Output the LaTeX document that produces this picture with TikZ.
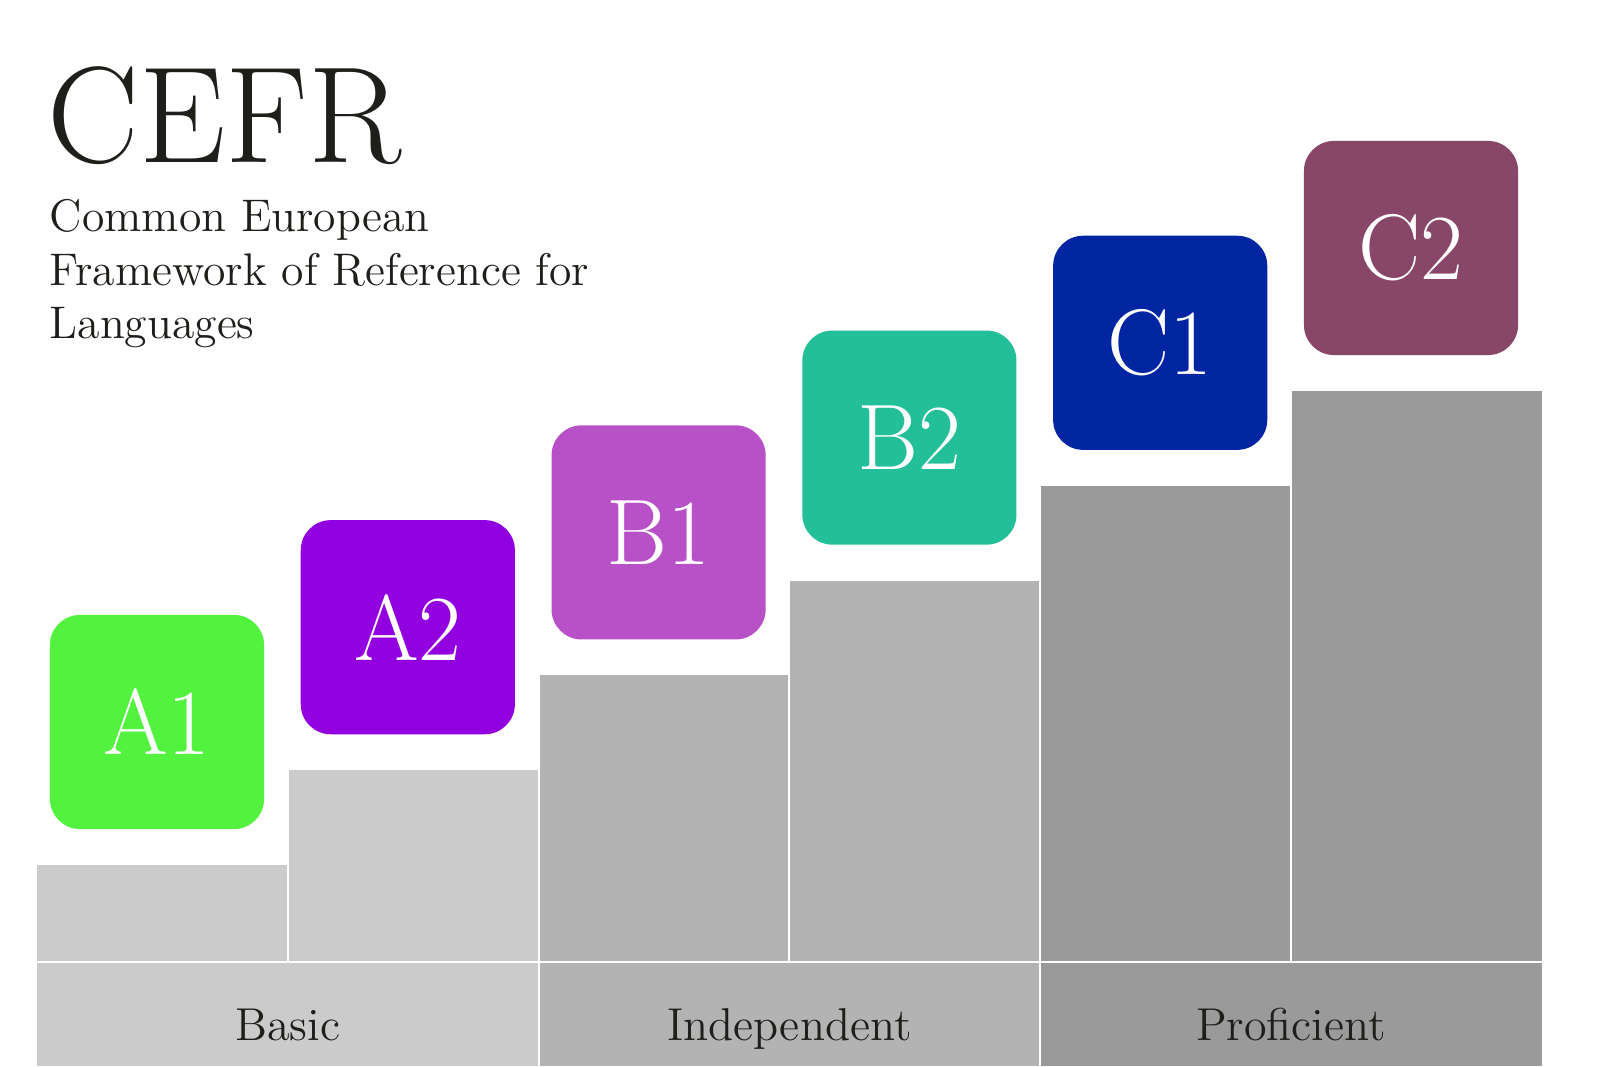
\documentclass[tikz,border=0pt]{standalone}
\usetikzlibrary{positioning}
\definecolor{levelaone}{HTML}{52F23F}
\definecolor{levelatwo}{HTML}{9300E0}
\definecolor{levelbone}{HTML}{B850C8}
\definecolor{levelbtwo}{HTML}{22BF99}
\definecolor{levelcone}{HTML}{0025A2}
\definecolor{levelctwo}{HTML}{884668}
\definecolor{stepbasic}{HTML}{CBCBCB}
\definecolor{stepindep}{HTML}{B3B3B3}
\definecolor{stepprof}{HTML}{9A9A9A}
\definecolor{inkdark}{HTML}{1E1E1A}

\begin{document}
\begin{tikzpicture}[
    x=0.01cm, y=0.01cm,
    text=inkdark,
    stair/.style={draw=white, line width=0.6pt},
    levelbox/.style={minimum size=2.14cm, inner sep=0pt, text=white,
        rounded corners=0.3cm, font=\fontsize{26.5}{26.5}\selectfont},
    bandlabel/.style={anchor=base, inner sep=0pt,
        font=\fontsize{13.1}{13.1}\selectfont},
    subline/.style={anchor=base west, inner sep=0pt,
        font=\fontsize{13}{15}\selectfont},
]
\useasboundingbox[fill=white] (0,0) rectangle (1600,1066);

% Stairs — one step per level
\fill[stepbasic] (37,104) rectangle (287.8,201);
\fill[stepbasic] (287.8,104) rectangle (538.6,295.8);
\fill[stepindep] (538.6,104) rectangle (789.4,390.6);
\fill[stepindep] (789.4,104) rectangle (1040.2,485.4);
\fill[stepprof] (1040.2,104) rectangle (1291,580.2);
\fill[stepprof] (1291,104) rectangle (1541.8,675);

% Bottom band — user groups
\fill[stepbasic] (37,0) rectangle (538.6,104);
\fill[stepindep] (538.6,0) rectangle (1040.2,104);
\fill[stepprof] (1040.2,0) rectangle (1541.8,104);

% White seams between the blocks
\draw[stair] (37,104) -- (1541.8,104);
\draw[stair] (287.8,104) -- (287.8,295.8);
\draw[stair] (538.6,0) -- (538.6,390.6);
\draw[stair] (789.4,104) -- (789.4,485.4);
\draw[stair] (1040.2,0) -- (1040.2,580.2);
\draw[stair] (1291,104) -- (1291,675);

\node[bandlabel] (basic) at (287.8,26) {Basic};
\node[bandlabel] (independent) at (789.4,26) {Independent};
\node[bandlabel] (proficient) at (1291,26) {Proficient};

% Level boxes above each step
\node[levelbox, fill=levelaone] (a1) at (157,344) {A1};
\node[levelbox, fill=levelatwo] (a2) at (407.8,438.8) {A2};
\node[levelbox, fill=levelbone] (b1) at (658.6,533.6) {B1};
\node[levelbox, fill=levelbtwo] (b2) at (909.4,628.4) {B2};
\node[levelbox, fill=levelcone] (c1) at (1160.2,723.2) {C1};
\node[levelbox, fill=levelctwo] (c2) at (1411,818) {C2};

% Title block
\node[anchor=base west, inner sep=0pt, font=\fontsize{39}{39}\selectfont]
    (title) at (47,903) {CEFR};
\node[subline] (subone) at (49,834) {Common European};
\node[subline] (subtwo) at (49,780) {Framework of Reference for};
\node[subline] (subthree) at (49,727) {Languages};

\end{tikzpicture}
\end{document}
